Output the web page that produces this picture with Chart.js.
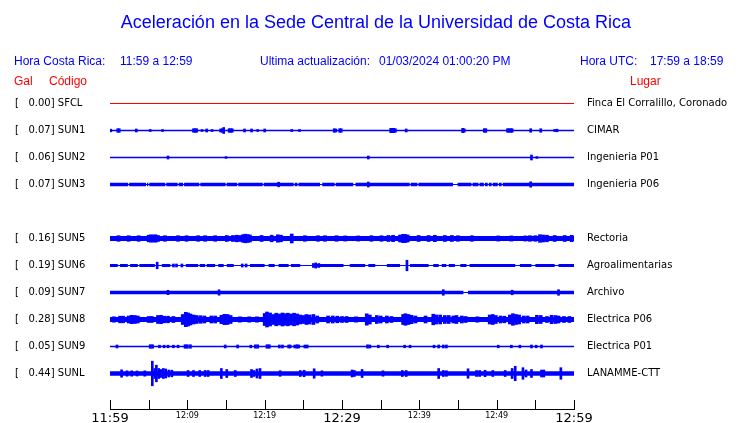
<!DOCTYPE html>
<html>
<head>
<meta charset="utf-8">
<script src="https://cdn.jsdelivr.net/npm/chart.js@4.4.1/dist/chart.umd.min.js"></script>
<style>
  body { margin: 0; background: #fff; }
  #wrap { position: relative; width: 740px; height: 423px; }
  .t { position: absolute; white-space: pre; font-family: 'Liberation Sans', Arial, sans-serif;
       font-size: 12px; line-height: 14px; color: #0000ff; }
  .r { color: #ff0000; }
</style>
</head>
<body>
<div id="wrap">
  <canvas id="chart"></canvas>
  <div class="t" style="left:0;width:752px;text-align:center;top:11px;font-size:18px;line-height:22px">Aceleración en la Sede Central de la Universidad de Costa Rica</div>
  <div class="t" style="left:14px;top:54px">Hora Costa Rica:</div>
  <div class="t" style="left:120px;top:54px">11:59 a 12:59</div>
  <div class="t" style="left:260px;top:54px">Ultima actualización:</div>
  <div class="t" style="left:379px;top:54px">01/03/2024 01:00:20 PM</div>
  <div class="t" style="left:580px;top:54px">Hora UTC:</div>
  <div class="t" style="left:650px;top:54px">17:59 a 18:59</div>
  <div class="t r" style="left:14px;top:74px">Gal</div>
  <div class="t r" style="left:49px;top:74px">Código</div>
  <div class="t r" style="left:630px;top:74px">Lugar</div>
</div>
<script>
// minutes after 11:59 local time, window of one hour
const startHour = 11, startMin = 59;

const stations = ['SFCL', 'SUN1', 'SUN2', 'SUN3', 'SUN4', 'SUN5', 'SUN6', 'SUN7', 'SUN8', 'SUN9', 'SUNL'];
const gal = [0.00, 0.07, 0.06, 0.07, null, 0.16, 0.19, 0.09, 0.28, 0.05, 0.44];
const places = ['Finca El Corralillo, Coronado', 'CIMAR', 'Ingenieria P01', 'Ingenieria P06', '',
  'Rectoria', 'Agroalimentarias', 'Archivo', 'Electrica P06', 'Electrica P01', 'LANAMME-CTT'];

// half amplitude of the continuous noise band of each trace
const floor = [0.5, 0.65, 0.65, 1.7, null, 2.5, 1.5, 1.7, 2.4, 0.65, 2.2];
const rowSpan = 27; // amplitude units between two traces

// stretches where the noise band is present (rest is the thin trace)
const sun3Spans = [[0, 2.35], [2.48, 4.65], [4.78, 4.95], [5.08, 7.15], [7.28, 8.75], [8.88, 9.45], [9.58, 11.55],
  [11.68, 14.95], [15.08, 16.45], [16.58, 19.75], [19.88, 23.75], [23.88, 24.25], [24.38, 27.15], [27.45, 29.05],
  [29.18, 31.45], [31.75, 38.75], [38.88, 39.75], [39.88, 44.35], [44.95, 46.75], [46.88, 47.65], [47.78, 48.35],
  [48.48, 48.85], [48.98, 49.35], [49.48, 50.15], [50.28, 50.65], [50.78, 60]];
const sun6Spans = [[0, 1.0], [1.3, 2.3], [2.6, 3.6], [3.8, 5.8], [6.7, 7.8], [9.8, 11.4], [11.6, 12.3], [12.5, 13.6],
  [14.0, 14.7], [15.1, 16.0], [18.1, 20.0], [20.5, 21.3], [21.8, 23.1], [23.4, 24.6], [26.4, 30.2], [31.0, 33.0],
  [33.4, 34.3], [35.8, 37.5], [38.8, 41.2], [41.8, 42.5], [42.9, 43.5], [43.8, 44.6], [45.3, 46.1], [46.5, 52.4],
  [53.0, 54.5], [55.0, 57.5], [58.0, 60]];
const sun7Spans = [[0, 45.7], [46.3, 60]];

// [minute, half amplitude] of the bursts above the noise band
const sun1Marks = [[0.1, 1.3], [1.0, 1.8], [1.2, 1.8], [3.4, 1.5], [5.2, 1.0], [6.8, 1.0], [10.8, 1.8], [11.0, 1.8],
  [11.2, 1.8], [11.9, 1.0], [12.5, 1.5], [13.2, 1.0], [14.3, 1.5], [14.5, 1.8], [14.7, 3.0], [15.4, 1.8], [15.6, 1.8],
  [15.8, 1.8], [17.4, 1.5], [18.3, 1.5], [19.1, 1.0], [20.0, 1.5], [23.5, 1.0], [24.5, 1.0], [29.0, 1.8], [29.2, 1.5],
  [29.7, 1.8], [29.9, 1.8], [36.3, 2.2], [36.5, 2.2], [36.7, 2.2], [36.9, 1.8], [38.3, 1.5], [45.6, 2.2], [45.8, 1.8],
  [48.4, 1.8], [48.6, 1.8], [51.4, 1.8], [51.6, 1.8], [51.8, 1.8], [52.0, 1.8], [54.4, 1.8], [55.7, 1.8], [57.5, 1.0],
  [57.8, 1.3]];
const sun2Marks = [[7.5, 1.5], [15.0, 0.9], [33.4, 1.5], [54.5, 2.5], [55.2, 0.9]];
const sun3Marks = [[21.8, 2.3], [33.4, 2.5], [54.4, 2.7]];
const sun5Marks = [[1.1, 2.8], [2.4, 2.8], [3.7, 2.8], [5.0, 3.3], [5.3, 3.7], [5.6, 3.5], [5.9, 3.7], [6.2, 3.0],
  [7.1, 2.8], [8.8, 2.8], [9.9, 2.8], [11.4, 2.8], [12.3, 2.8], [13.6, 2.8], [15.1, 3.0], [15.9, 3.0], [16.4, 3.3],
  [16.8, 3.0], [17.2, 3.8], [17.5, 4.3], [17.8, 4.0], [18.1, 3.5], [19.6, 3.0], [20.9, 3.3], [21.7, 3.7], [22.1, 3.3],
  [23.5, 4.5], [25.2, 2.8], [26.9, 2.8], [27.8, 2.8], [29.3, 2.8], [30.4, 2.6], [32.1, 2.6], [33.8, 2.8], [35.1, 2.8],
  [36.0, 3.0], [36.6, 3.2], [37.5, 3.5], [37.9, 4.2], [38.2, 4.0], [38.5, 3.5], [39.9, 3.0], [41.2, 3.0], [42.0, 3.2],
  [43.3, 3.0], [44.2, 3.0], [45.0, 2.8], [46.8, 2.8], [50.2, 2.6], [51.9, 2.6], [53.7, 2.6], [54.3, 2.8], [55.0, 2.8],
  [55.6, 3.8], [56.0, 3.5], [56.5, 3.3], [57.5, 3.0], [58.8, 3.0], [59.7, 3.2]];
const sun6Marks = [[6.1, 3.3], [8.2, 1.5], [8.6, 1.5], [9.3, 1.5], [17.1, 1.5], [17.6, 1.5], [26.3, 2.0], [26.6, 2.6],
  [27.0, 2.0], [38.4, 5.3]];
const sun7Marks = [[7.5, 2.2], [14.1, 2.7], [43.1, 2.8], [52.0, 2.3], [58.0, 2.8]];
const sun8Marks = [[0.5, 2.7], [1.3, 3.3], [1.7, 3.3], [2.4, 3.5], [2.8, 4.2], [3.2, 4.0], [3.6, 3.5], [5.0, 3.0],
  [5.4, 3.0], [6.2, 4.0], [6.6, 4.2], [7.0, 3.3], [7.5, 3.3], [8.2, 3.0], [9.4, 5.0], [9.8, 7.2], [10.1, 6.5],
  [10.4, 5.5], [10.8, 4.5], [11.2, 4.0], [11.7, 3.8], [12.2, 3.5], [13.1, 3.5], [13.6, 3.5], [14.4, 4.2], [14.8, 5.2],
  [15.2, 5.0], [15.6, 4.0], [16.8, 2.7], [18.0, 2.7], [19.0, 2.7], [20.0, 6.0], [20.3, 7.5], [20.7, 6.5], [21.1, 5.0],
  [21.5, 6.3], [21.9, 5.5], [22.3, 6.5], [22.7, 5.8], [23.0, 6.3], [23.4, 5.5], [23.8, 6.3], [24.2, 5.5], [24.6, 4.5],
  [25.0, 4.0], [25.4, 5.0], [25.8, 4.5], [26.3, 5.0], [26.8, 3.5], [28.2, 3.5], [28.8, 3.5], [29.4, 3.3], [30.0, 3.0],
  [30.6, 3.0], [31.8, 2.7], [33.2, 5.7], [33.6, 4.5], [34.5, 4.0], [35.0, 3.5], [35.8, 3.5], [36.4, 3.0], [37.9, 5.0],
  [38.2, 5.8], [38.6, 5.0], [39.0, 4.2], [39.5, 3.5], [40.8, 3.5], [41.8, 5.3], [42.2, 4.5], [42.7, 4.5], [43.3, 4.0],
  [43.8, 4.0], [44.4, 3.5], [44.8, 4.0], [45.5, 3.5], [46.0, 3.0], [47.5, 2.7], [49.1, 4.5], [49.5, 5.0], [49.9, 4.0],
  [50.5, 3.5], [51.0, 3.3], [51.7, 4.5], [52.1, 5.8], [52.5, 5.0], [52.9, 4.5], [53.5, 3.5], [54.0, 3.5], [55.2, 4.2],
  [55.7, 4.0], [56.5, 3.0], [57.1, 4.2], [57.6, 4.0], [58.0, 3.5], [58.7, 3.0], [59.4, 3.0]];
const sun9Marks = [[0.9, 1.5], [5.2, 1.8], [5.5, 1.8], [6.4, 1.3], [7.0, 1.3], [7.5, 1.3], [8.2, 1.3], [8.8, 1.3],
  [9.7, 1.8], [10.0, 1.8], [10.4, 1.8], [14.9, 1.5], [16.5, 1.5], [18.2, 1.3], [18.8, 1.7], [19.1, 1.7], [20.3, 1.8],
  [20.6, 1.8], [21.9, 1.5], [22.3, 1.5], [23.1, 1.5], [23.3, 1.5], [23.9, 1.5], [24.2, 1.8], [24.4, 1.5], [25.2, 1.5],
  [25.5, 1.5], [33.3, 1.7], [33.6, 1.5], [34.7, 1.3], [35.9, 1.3], [38.1, 1.3], [38.8, 1.3], [41.9, 1.3], [42.5, 1.5],
  [43.1, 1.5], [43.5, 1.5], [50.2, 1.3], [51.9, 1.3], [53.0, 1.3], [54.5, 1.5], [55.1, 1.3], [55.8, 1.5]];
const sunlMarks = [[1.5, 3.7], [2.2, 2.7], [2.8, 2.7], [3.5, 2.5], [4.5, 2.7], [5.47, 12.3], [5.8, 5.0], [6.0, 8.3],
  [6.3, 5.0], [6.6, 4.0], [6.9, 5.0], [7.2, 4.5], [7.6, 3.5], [8.0, 3.3], [10.1, 3.0], [10.8, 3.0], [11.6, 3.0],
  [12.3, 3.0], [12.7, 3.0], [14.4, 5.0], [15.1, 4.0], [16.2, 3.0], [18.3, 4.0], [18.6, 3.0], [19.0, 4.5], [19.4, 5.0],
  [22.0, 2.8], [24.6, 3.0], [25.1, 3.2], [26.4, 4.7], [27.4, 2.7], [31.3, 3.5], [31.6, 3.0], [32.6, 4.0], [35.3, 2.7],
  [37.8, 3.0], [38.3, 3.0], [42.5, 5.0], [43.1, 3.0], [43.5, 2.8], [46.3, 4.7], [47.4, 3.0], [47.8, 3.0], [48.5, 3.2],
  [49.5, 3.0], [51.1, 3.0], [52.0, 5.0], [52.4, 7.2], [53.4, 5.8], [53.8, 3.5], [54.5, 4.0], [55.8, 3.5], [56.1, 3.5],
  [58.3, 5.8]];

const spans = [null, null, null, sun3Spans, null, null, sun6Spans, sun7Spans, null, null, null];
const marks = [[], sun1Marks, sun2Marks, sun3Marks, [], sun5Marks, sun6Marks, sun7Marks, sun8Marks, sun9Marks, sunlMarks];

function clock(m) {
  const t = startHour * 60 + startMin + m;
  return Math.floor(t / 60) + ':' + String(t % 60).padStart(2, '0');
}

const datasets = [];
stations.forEach((code, i) => {
  if (gal[i] === null) return;
  const color = i === 0 ? '#ff0000' : '#0000ff';
  datasets.push({
    type: 'line', data: [{x: 0, y: i}, {x: 60, y: i}],
    borderColor: color, borderWidth: 1, pointRadius: 0
  });
  const pts = [];
  (spans[i] || [[0, 60]]).forEach(([a, b]) => {
    pts.push({x: a, y: i}, {x: b, y: i}, {x: b, y: null});
  });
  datasets.push({
    type: 'line', data: pts, borderColor: color, borderWidth: floor[i] * 2,
    pointRadius: 0, spanGaps: false, borderCapStyle: 'butt'
  });
  if (marks[i].length) {
    datasets.push({
      type: 'bar',
      data: marks[i].map(([m, a]) => ({x: m, y: [i - a / rowSpan, i + a / rowSpan]})),
      backgroundColor: color, barThickness: (code === 'SUN5' || code === 'SUN8') ? 3 : 2, grouped: false
    });
  }
});

// tick marks point up into the plot like the original
const innerTicks = {
  id: 'innerTicks',
  afterDraw(chart) {
    const {ctx, chartArea, scales: {x}} = chart;
    ctx.save();
    ctx.strokeStyle = '#000';
    ctx.lineWidth = 1;
    ctx.beginPath();
    x.ticks.forEach(t => {
      const px = Math.round(x.getPixelForValue(t.value)) + 0.5;
      ctx.moveTo(px, chartArea.bottom);
      ctx.lineTo(px, chartArea.bottom - 9);
    });
    ctx.stroke();
    ctx.restore();
  }
};

const rowTicks = s => { s.ticks = stations.map((_, i) => ({value: i})); };
const yMin = -0.5, yMax = 11.315;

new Chart(document.getElementById('chart'), {
  type: 'bar',
  data: {datasets},
  options: {
    responsive: true,
    maintainAspectRatio: false,
    animation: false,
    layout: {padding: {left: 15, top: 90, right: 0, bottom: 0}},
    plugins: {legend: {display: false}, tooltip: {enabled: false}},
    scales: {
      x: {
        type: 'linear', min: 0, max: 60, offset: false,
        grid: {display: false, drawTicks: false, offset: false},
        border: {display: true, color: '#000', width: 1},
        ticks: {
          stepSize: 5, autoSkip: false, maxRotation: 0, padding: 2, color: '#000',
          font: ctx => ({family: 'DejaVu Sans', size: ctx.tick && ctx.tick.value % 30 === 0 ? 13 : 8}),
          callback: v => v % 10 === 0 ? clock(v) : ''
        },
        afterFit: s => { s.height = 14; s.paddingLeft = 0; s.paddingRight = 0; }
      },
      y: {
        type: 'linear', position: 'left', reverse: true, min: yMin, max: yMax,
        grid: {display: false, drawTicks: false},
        border: {display: false},
        afterBuildTicks: rowTicks,
        ticks: {
          autoSkip: false, crossAlign: 'far', color: '#000',
          font: {family: 'DejaVu Sans', size: 10},
          callback: v => gal[v] == null ? '' : '[   ' + gal[v].toFixed(2) + '] ' + stations[v]
        },
        afterFit: s => { s.width = 95; s.paddingTop = 0; s.paddingBottom = 0; }
      },
      y2: {
        type: 'linear', position: 'right', reverse: true, min: yMin, max: yMax,
        grid: {display: false, drawTicks: false},
        border: {display: false},
        afterBuildTicks: rowTicks,
        ticks: {
          autoSkip: false, padding: 13, color: '#000',
          font: {family: 'DejaVu Sans', size: 10},
          callback: v => places[v] || ''
        },
        afterFit: s => { s.width = 166; s.paddingTop = 0; s.paddingBottom = 0; }
      }
    }
  },
  plugins: [innerTicks]
});
</script>
</body>
</html>
